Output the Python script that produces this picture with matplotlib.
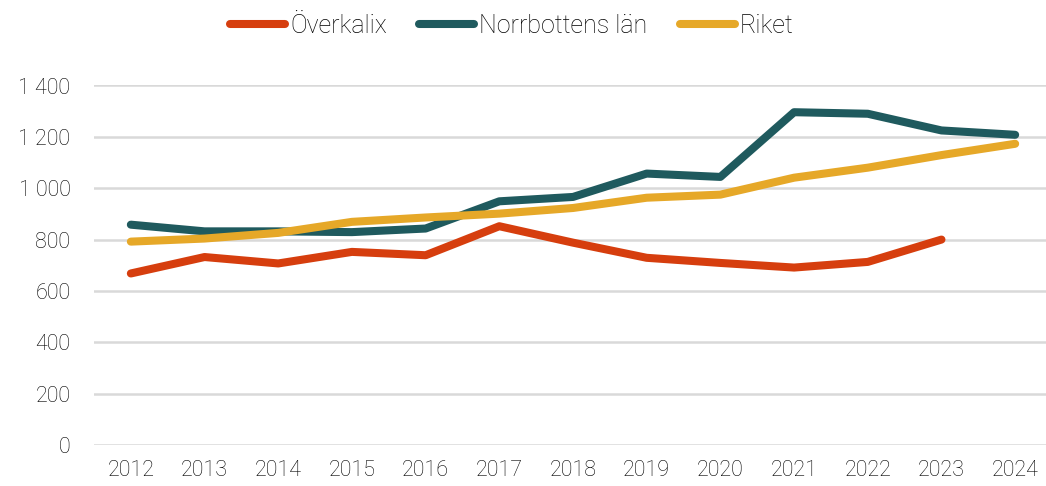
import matplotlib
matplotlib.use("Agg")
import matplotlib.pyplot as plt
from matplotlib.lines import Line2D

years = [str(y) for y in range(2012, 2025)]
overkalix = [668, 732, 707, 752, 739, 852, 788, 729, 709, 691, 713, 800]
norrbotten = [858, 832, 832, 829, 843, 949, 966, 1057, 1044, 1296, 1290, 1225, 1208]
riket = [792, 804, 826, 869, 886, 901, 923, 963, 975, 1041, 1080, 1129, 1173]
series_names = ["Överkalix", "Norrbottens län", "Riket"]
colors = ["#D63E0E", "#1F5A5E", "#E6A828"]
yticks = [0, 200, 400, 600, 800, 1000, 1200, 1400]
ytick_labels = ["0", "200", "400", "600", "800", "1 000", "1 200", "1 400"]

plt.rcParams['font.family'] = ['Roboto', 'DejaVu Sans']
fig = plt.figure(figsize=(10.46, 4.86), dpi=100)
W, H = 1046, 486
left, right, top, bottom = 94, 1052, 85.5, 445
ax = fig.add_axes([left / W, (H - bottom) / H, (right - left) / W, (bottom - top) / H])

x = list(range(len(years)))
for data, c in zip([overkalix, norrbotten, riket], colors):
    ax.plot(x[:len(data)], data, color=c, lw=5.8, solid_capstyle='round', solid_joinstyle='round', zorder=3)

ax.set_xlim(-0.5, len(years) - 0.5)
ax.set_ylim(0, 1400)
ax.set_yticks(yticks)
ax.set_yticklabels(ytick_labels)
ax.set_xticks(x)
ax.set_xticklabels(years)
ax.yaxis.grid(True, color="#D9D9D9", lw=1.8)
ax.set_axisbelow(True)
for s in ax.spines.values():
    s.set_visible(False)
ax.tick_params(axis='both', length=0, labelsize=15.5, labelcolor="#000000")
ax.tick_params(axis='y', pad=17)
ax.tick_params(axis='x', pad=11)
for lab in ax.get_xticklabels() + ax.get_yticklabels():
    lab.set_fontweight('light')
    lab.set_color("#000000")

handles = [Line2D([0], [0], color=c, lw=5.8, solid_capstyle='round') for c in colors]
leg = fig.legend(handles, series_names, loc='center', bbox_to_anchor=(512 / W, (H - 26) / H), ncol=3,
                 frameon=False, handlelength=2.2, handletextpad=0.2, columnspacing=1.3,
                 prop={'weight': 'light', 'size': 18})
for t in leg.get_texts():
    t.set_color("#000000")

fig.savefig("out.png", dpi=100)
